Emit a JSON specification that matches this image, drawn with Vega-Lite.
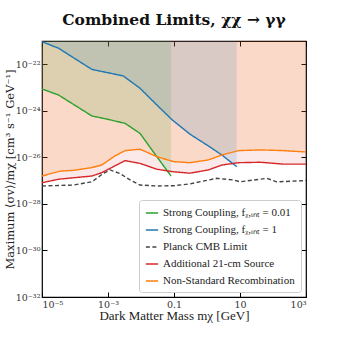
{
  "$schema": "https://vega.github.io/schema/vega-lite/v6.json",
  "width": 264,
  "height": 256,
  "autosize": {"type": "none"},
  "padding": {"left": 42, "top": 41, "right": 34, "bottom": 43},
  "background": "white",
  "config": {
    "font": "Liberation Serif",
    "view": {"stroke": "black", "strokeWidth": 1.2},
    "axis": {"domain": false, "grid": false, "tickColor": "black", "tickSize": -5, "tickWidth": 1, "labelFont": "DejaVu Serif", "labelFontSize": 9.5, "labelColor": "#333", "titleFont": "Liberation Serif", "titleFontSize": 13, "titleFontWeight": "normal", "titleColor": "#222"}
  },
  "title": {"text": "Combined Limits, χχ → γγ", "font": "DejaVu Serif", "fontSize": 15.5, "fontWeight": "bold", "offset": 12, "color": "#111"},
  "data": {"values": [
    {"s": "g", "x": 1e-5, "y": 8.71e-24},
    {"s": "g", "x": 3.16e-5, "y": 4.79e-24},
    {"s": "g", "x": 3.24e-4, "y": 6.03e-25},
    {"s": "g", "x": 1.02e-3, "y": 4.27e-25},
    {"s": "g", "x": 3.31e-3, "y": 2.88e-25},
    {"s": "g", "x": 9.33e-3, "y": 1.07e-25},
    {"s": "g", "x": 0.0302, "y": 1.07e-26},
    {"s": "g", "x": 0.0813, "y": 1.58e-27},
    {"s": "b", "x": 1e-5, "y": 9.33e-22},
    {"s": "b", "x": 3.16e-5, "y": 4.9e-22},
    {"s": "b", "x": 3.24e-4, "y": 6.03e-23},
    {"s": "b", "x": 2.88e-3, "y": 3.16e-23},
    {"s": "b", "x": 9.33e-3, "y": 9.33e-24},
    {"s": "b", "x": 0.0302, "y": 1.78e-24},
    {"s": "b", "x": 0.0851, "y": 4.27e-25},
    {"s": "b", "x": 0.302, "y": 1.0e-25},
    {"s": "b", "x": 1.1, "y": 3.09e-26},
    {"s": "b", "x": 2.82, "y": 1.26e-26},
    {"s": "b", "x": 7.94, "y": 3.98e-27},
    {"s": "p", "x": 1e-5, "y": 5.89e-28},
    {"s": "p", "x": 8.91e-5, "y": 6.46e-28},
    {"s": "p", "x": 3.24e-4, "y": 8.91e-28},
    {"s": "p", "x": 7.24e-4, "y": 2.04e-27},
    {"s": "p", "x": 1.15e-3, "y": 2.88e-27},
    {"s": "p", "x": 2.29e-3, "y": 2.04e-27},
    {"s": "p", "x": 4.68e-3, "y": 1.07e-27},
    {"s": "p", "x": 9.33e-3, "y": 6.46e-28},
    {"s": "p", "x": 0.0302, "y": 5.89e-28},
    {"s": "p", "x": 0.0955, "y": 6.03e-28},
    {"s": "p", "x": 0.302, "y": 7.24e-28},
    {"s": "p", "x": 1.95, "y": 1.26e-27},
    {"s": "p", "x": 6.31, "y": 1.07e-27},
    {"s": "p", "x": 10, "y": 8.91e-28},
    {"s": "p", "x": 40.7, "y": 1.15e-27},
    {"s": "p", "x": 64.6, "y": 1.26e-27},
    {"s": "p", "x": 128.8, "y": 8.91e-28},
    {"s": "p", "x": 1000, "y": 1.0e-27},
    {"s": "r", "x": 1e-5, "y": 8.13e-28},
    {"s": "r", "x": 3.16e-5, "y": 1.15e-27},
    {"s": "r", "x": 3.24e-4, "y": 1.58e-27},
    {"s": "r", "x": 6.46e-4, "y": 2.19e-27},
    {"s": "r", "x": 1.45e-3, "y": 3.98e-27},
    {"s": "r", "x": 3.31e-3, "y": 7.24e-27},
    {"s": "r", "x": 9.33e-3, "y": 5.5e-27},
    {"s": "r", "x": 0.0302, "y": 3.09e-27},
    {"s": "r", "x": 0.0955, "y": 2.4e-27},
    {"s": "r", "x": 0.302, "y": 2.09e-27},
    {"s": "r", "x": 1.1, "y": 2.88e-27},
    {"s": "r", "x": 2.82, "y": 4.68e-27},
    {"s": "r", "x": 8.91, "y": 5.89e-27},
    {"s": "r", "x": 40.7, "y": 6.17e-27},
    {"s": "r", "x": 204, "y": 5.13e-27},
    {"s": "r", "x": 1000, "y": 5.13e-27},
    {"s": "o", "x": 1e-5, "y": 1.58e-27},
    {"s": "o", "x": 3.55e-5, "y": 2.57e-27},
    {"s": "o", "x": 8.91e-5, "y": 2.75e-27},
    {"s": "o", "x": 3.24e-4, "y": 3.63e-27},
    {"s": "o", "x": 6.46e-4, "y": 4.68e-27},
    {"s": "o", "x": 1.62e-3, "y": 1.15e-26},
    {"s": "o", "x": 3.31e-3, "y": 1.95e-26},
    {"s": "o", "x": 9.33e-3, "y": 2.24e-26},
    {"s": "o", "x": 0.0302, "y": 1.07e-26},
    {"s": "o", "x": 0.0955, "y": 6.61e-27},
    {"s": "o", "x": 0.302, "y": 5.89e-27},
    {"s": "o", "x": 1.1, "y": 7.76e-27},
    {"s": "o", "x": 2.82, "y": 1.26e-26},
    {"s": "o", "x": 8.91, "y": 1.95e-26},
    {"s": "o", "x": 40.7, "y": 2.09e-26},
    {"s": "o", "x": 204, "y": 1.95e-26},
    {"s": "o", "x": 1000, "y": 1.7e-26}
  ]},
  "encoding": {
    "x": {"field": "x", "type": "quantitative", "scale": {"type": "log", "domain": [1e-5, 1000], "nice": false}},
    "y": {"field": "y", "type": "quantitative", "scale": {"type": "log", "domain": [1e-32, 1e-21], "nice": false}}
  },
  "layer": [
    {
      "transform": [{"filter": "datum.s == 'r'"}],
      "mark": {"type": "area", "color": "#d62728", "opacity": 0.1, "clip": true},
      "encoding": {
        "x": {"field": "x", "type": "quantitative", "axis": {"orient": "top", "labels": false, "title": null, "values": [1e-5, 1e-3, 0.1, 10, 1000]}},
        "y": {"field": "y", "type": "quantitative", "axis": {"orient": "right", "labels": false, "title": null, "values": [1e-32, 1e-30, 1e-28, 1e-26, 1e-24, 1e-22]}},
        "y2": {"datum": 1e-21}
      }
    },
    {
      "transform": [{"filter": "datum.s == 'o'"}],
      "mark": {"type": "area", "color": "#ff7f0e", "opacity": 0.15, "clip": true},
      "encoding": {
        "x": {"field": "x", "type": "quantitative", "axis": null},
        "y": {"field": "y", "type": "quantitative", "axis": null},
        "y2": {"datum": 1e-21}
      }
    },
    {
      "transform": [{"filter": "datum.s == 'g'"}],
      "mark": {"type": "area", "color": "#2ca02c", "opacity": 0.15, "clip": true},
      "encoding": {
        "x": {"field": "x", "type": "quantitative", "axis": null},
        "y": {"field": "y", "type": "quantitative", "axis": null},
        "y2": {"datum": 1e-21}
      }
    },
    {
      "transform": [{"filter": "datum.s == 'b'"}],
      "mark": {"type": "area", "color": "#1f77b4", "opacity": 0.15, "clip": true},
      "encoding": {
        "x": {"field": "x", "type": "quantitative", "axis": null},
        "y": {"field": "y", "type": "quantitative", "axis": null},
        "y2": {"datum": 1e-21}
      }
    },
    {
      "mark": {"type": "line", "strokeWidth": 1.4, "clip": true},
      "encoding": {
        "x": {"field": "x", "type": "quantitative", "title": "Dark Matter Mass mχ [GeV]", "axis": {"values": [1e-5, 1e-3, 0.1, 10, 1000], "labelPadding": 7, "titlePadding": 1, "labelExpr": "round(log(datum.value)/LN10) == -5 ? '10⁻⁵' : round(log(datum.value)/LN10) == -3 ? '10⁻³' : round(log(datum.value)/LN10) == -1 ? '0.1' : round(log(datum.value)/LN10) == 1 ? '10' : '10³'"}},
        "y": {"field": "y", "type": "quantitative", "title": "Maximum ⟨σv⟩/mχ [cm³ s⁻¹ GeV⁻¹]", "axis": {"values": [1e-32, 1e-30, 1e-28, 1e-26, 1e-24, 1e-22], "labelPadding": 7, "titlePadding": 0, "titleFont": "DejaVu Serif", "titleFontSize": 11.5, "labelExpr": "round(log(datum.value)/LN10) == -32 ? '10⁻³²' : round(log(datum.value)/LN10) == -30 ? '10⁻³⁰' : round(log(datum.value)/LN10) == -28 ? '10⁻²⁸' : round(log(datum.value)/LN10) == -26 ? '10⁻²⁶' : round(log(datum.value)/LN10) == -24 ? '10⁻²⁴' : '10⁻²²'"}},
        "color": {"field": "s", "type": "nominal", "scale": {"domain": ["g", "b", "p", "r", "o"], "range": ["#2ca02c", "#1f77b4", "#444444", "#d62728", "#ff7f0e"]}, "legend": {"title": null, "orient": "bottom-right", "offset": 5, "fillColor": "white", "strokeColor": "#cccccc", "cornerRadius": 3, "padding": 6, "symbolType": "stroke", "symbolSize": 150, "symbolStrokeWidth": 1.5, "labelFont": "Liberation Serif", "labelFontSize": 11, "labelColor": "#222", "rowPadding": 5, "labelLimit": 300, "labelExpr": "datum.value == 'g' ? 'Strong Coupling, fᵪ,ᵢₙₜ = 0.01' : datum.value == 'b' ? 'Strong Coupling, fᵪ,ᵢₙₜ = 1' : datum.value == 'p' ? 'Planck CMB Limit' : datum.value == 'r' ? 'Additional 21-cm Source' : 'Non-Standard Recombination'"}},
        "strokeDash": {"field": "s", "type": "nominal", "scale": {"domain": ["g", "b", "p", "r", "o"], "range": [[1, 0], [1, 0], [4, 2.5], [1, 0], [1, 0]]}, "legend": null}
      }
    }
  ],
  "resolve": {"axis": {"x": "independent", "y": "independent"}}
}
